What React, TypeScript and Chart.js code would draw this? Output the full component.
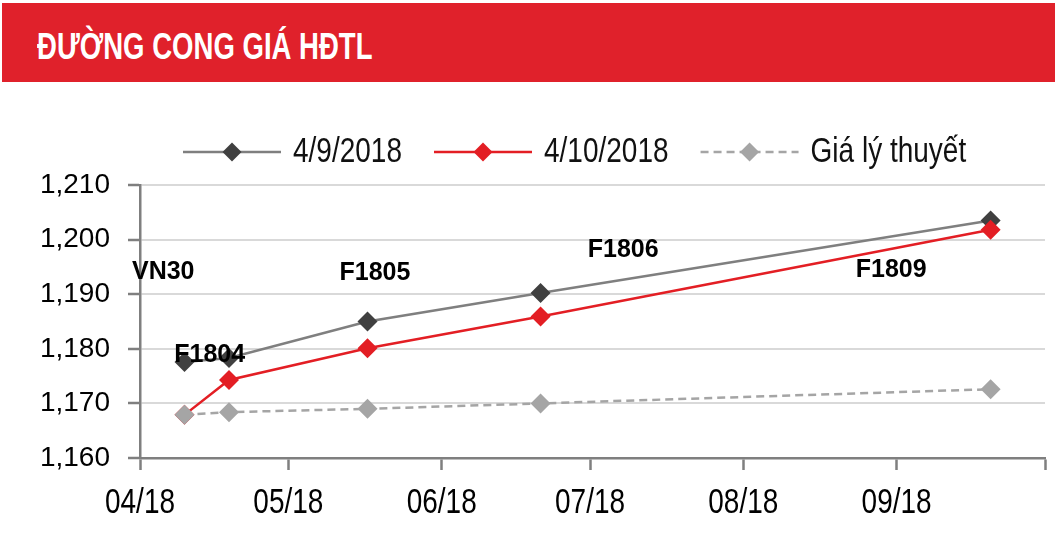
import React, { useEffect, useRef } from 'react';
import { Chart, registerables } from 'chart.js';

Chart.register(...registerables);

const TITLE = 'ĐƯỜNG CONG GIÁ HĐTL';
const contractDates = ['2018-04-10', '2018-04-19', '2018-05-17', '2018-06-21', '2018-09-20'];
const contractNames = ['VN30', 'F1804', 'F1805', 'F1806', 'F1809'];
const series0409 = [1177.6, 1178.3, 1185.0, 1190.2, 1203.5];
const series0410 = [1167.9, 1174.3, 1180.1, 1185.9, 1201.8];
const theoretical = [1167.9, 1168.4, 1169.0, 1170.0, 1172.6];
const seriesNames = ['4/9/2018', '4/10/2018', 'Giá lý thuyết'];
const monthTickDates = ['2018-04-01', '2018-05-01', '2018-06-01', '2018-07-01', '2018-08-01', '2018-09-01', '2018-10-01'];
const monthTickLabels = ['04/18', '05/18', '06/18', '07/18', '08/18', '09/18', ''];
const Y_MIN = 1160;
const Y_MAX = 1210;
const Y_STEP = 10;
// annotation anchors (days from 1 Apr 2018, price level)
const labelDays = [4.7, 14.1, 47.5, 97.7, 151.9];
const labelValues = [1194.1, 1178.9, 1193.9, 1198.1, 1194.4];

const FONT = '"Liberation Sans", Arial, sans-serif';
const NARROW_SCALE = 0.8;

const ORIGIN = Date.UTC(2018, 3, 1);
const toDay = (s: string) => {
  const [y, m, d] = s.split('-').map(Number);
  return (Date.UTC(y, m - 1, d) - ORIGIN) / 86400000;
};

const drawNarrow = (ctx: CanvasRenderingContext2D, text: string, x: number, y: number, align: CanvasTextAlign) => {
  ctx.save();
  ctx.translate(x, y);
  ctx.scale(NARROW_SCALE, 1);
  ctx.textAlign = align;
  ctx.fillText(text, 0, 0);
  ctx.restore();
};

const labelPlugin = {
  id: 'pointNames',
  afterDatasetsDraw(chart: any) {
    const ctx = chart.ctx;
    const xs = chart.scales.x;
    const ys = chart.scales.y;
    ctx.save();
    ctx.font = `bold 25px ${FONT}`;
    ctx.fillStyle = '#000';
    ctx.textAlign = 'center';
    ctx.textBaseline = 'middle';
    contractNames.forEach((n, i) => {
      ctx.fillText(n, xs.getPixelForValue(labelDays[i]), ys.getPixelForValue(labelValues[i]));
    });
    ctx.restore();
  },
};

const xLabelPlugin = {
  id: 'xLabels',
  afterDraw(chart: any) {
    const ctx = chart.ctx;
    const xs = chart.scales.x;
    const tickDays = monthTickDates.map(toDay);
    ctx.save();
    ctx.font = `35px ${FONT}`;
    ctx.fillStyle = '#000';
    ctx.textBaseline = 'middle';
    tickDays.forEach((d, i) => {
      if (monthTickLabels[i]) drawNarrow(ctx, monthTickLabels[i], xs.getPixelForValue(d), chart.chartArea.bottom + 45, 'center');
    });
    ctx.restore();
  },
};

const drawDiamond = (ctx: CanvasRenderingContext2D, x: number, y: number, r: number, color: string) => {
  ctx.beginPath();
  ctx.moveTo(x, y - r);
  ctx.lineTo(x + r, y);
  ctx.lineTo(x, y + r);
  ctx.lineTo(x - r, y);
  ctx.closePath();
  ctx.fillStyle = color;
  ctx.fill();
};

const legendPlugin = {
  id: 'customLegend',
  afterDraw(chart: any) {
    const ctx = chart.ctx;
    const y = 152;
    let x = chart.chartArea.left + 43;
    ctx.save();
    ctx.font = `35px ${FONT}`;
    ctx.textBaseline = 'middle';
    chart.data.datasets.forEach((ds: any) => {
      ctx.strokeStyle = ds.borderColor;
      ctx.lineWidth = ds.borderWidth;
      ctx.setLineDash(ds.borderDash || []);
      ctx.beginPath();
      ctx.moveTo(x, y);
      ctx.lineTo(x + 98, y);
      ctx.stroke();
      ctx.setLineDash([]);
      drawDiamond(ctx, x + 49, y, 9.5, ds.pointBackgroundColor);
      ctx.fillStyle = '#111';
      drawNarrow(ctx, ds.label, x + 110, y, 'left');
      x += 110 + ctx.measureText(ds.label).width * NARROW_SCALE + 32;
    });
    ctx.restore();
  },
};

export default function App() {
  const ref = useRef<HTMLCanvasElement>(null);
  useEffect(() => {
    const days = contractDates.map(toDay);
    const tickDays = monthTickDates.map(toDay);
    const mk = (vals: number[]) => vals.map((v, i) => ({ x: days[i], y: v }));
    const chart = new Chart(ref.current!, {
      type: 'line',
      data: {
        datasets: [
          {
            label: seriesNames[0],
            data: mk(series0409),
            borderColor: '#7F7F7F',
            borderWidth: 2.5,
            pointStyle: 'rectRot',
            pointRadius: 10,
            pointBackgroundColor: '#404040',
            pointBorderWidth: 0,
            order: 2,
          },
          {
            label: seriesNames[1],
            data: mk(series0410),
            borderColor: '#E31E24',
            borderWidth: 2.5,
            pointStyle: 'rectRot',
            pointRadius: 10,
            pointBackgroundColor: '#E31E24',
            pointBorderWidth: 0,
            order: 1,
          },
          {
            label: seriesNames[2],
            data: mk(theoretical),
            borderColor: '#A5A5A5',
            borderWidth: 2.5,
            borderDash: [8, 5],
            pointStyle: 'rectRot',
            pointRadius: 10,
            pointBackgroundColor: '#A5A5A5',
            pointBorderWidth: 0,
            order: 0,
          },
        ],
      },
      options: {
        animation: false,
        responsive: false,
        events: [],
        layout: { padding: { top: 185, right: 8, left: 0, bottom: 0 } },
        plugins: { legend: { display: false }, tooltip: { enabled: false } },
        scales: {
          x: {
            type: 'linear',
            min: tickDays[0],
            max: tickDays[tickDays.length - 1],
            afterBuildTicks: (s: any) => {
              s.ticks = tickDays.map((v) => ({ value: v }));
            },
            afterFit: (s: any) => {
              s.height = 83;
            },
            ticks: { display: false, autoSkip: false },
            grid: {
              drawOnChartArea: false,
              drawTicks: true,
              tickLength: 12,
              tickColor: '#7F7F7F',
              tickWidth: 2.5,
            },
            border: { color: '#7F7F7F', width: 2.5 },
          },
          y: {
            min: Y_MIN,
            max: Y_MAX,
            afterFit: (s: any) => {
              s.width = 140;
            },
            ticks: {
              stepSize: Y_STEP,
              padding: 18,
              color: '#000',
              font: { family: FONT, size: 28 },
              callback: (v: any) => Number(v).toLocaleString('en-US'),
            },
            grid: {
              color: '#D9D9D9',
              lineWidth: 2,
              tickLength: 12,
              tickColor: '#7F7F7F',
              tickWidth: 2.5,
            },
            border: { color: '#7F7F7F', width: 2.5 },
          },
        },
      },
      plugins: [labelPlugin, xLabelPlugin, legendPlugin],
    } as any);
    return () => chart.destroy();
  }, []);

  return (
    <div style={{ position: 'absolute', left: 0, top: 0, width: 1055, height: 541, background: '#fff' }}>
      <div
        style={{
          position: 'absolute',
          left: 2,
          top: 3,
          width: 1053,
          height: 79,
          background: '#E0212B',
          overflow: 'hidden',
        }}
      >
        <div
          style={{
            position: 'absolute',
            left: 35,
            top: 4,
            color: '#fff',
            fontFamily: FONT,
            fontWeight: 'bold',
            fontSize: 36,
            lineHeight: '79px',
            whiteSpace: 'nowrap',
            transform: 'scaleX(0.765)',
            transformOrigin: '0 0',
          }}
        >
          {TITLE}
        </div>
      </div>
      <canvas ref={ref} width={1055} height={541} style={{ position: 'absolute', left: 0, top: 0, width: 1055, height: 541 }} />
    </div>
  );
}
